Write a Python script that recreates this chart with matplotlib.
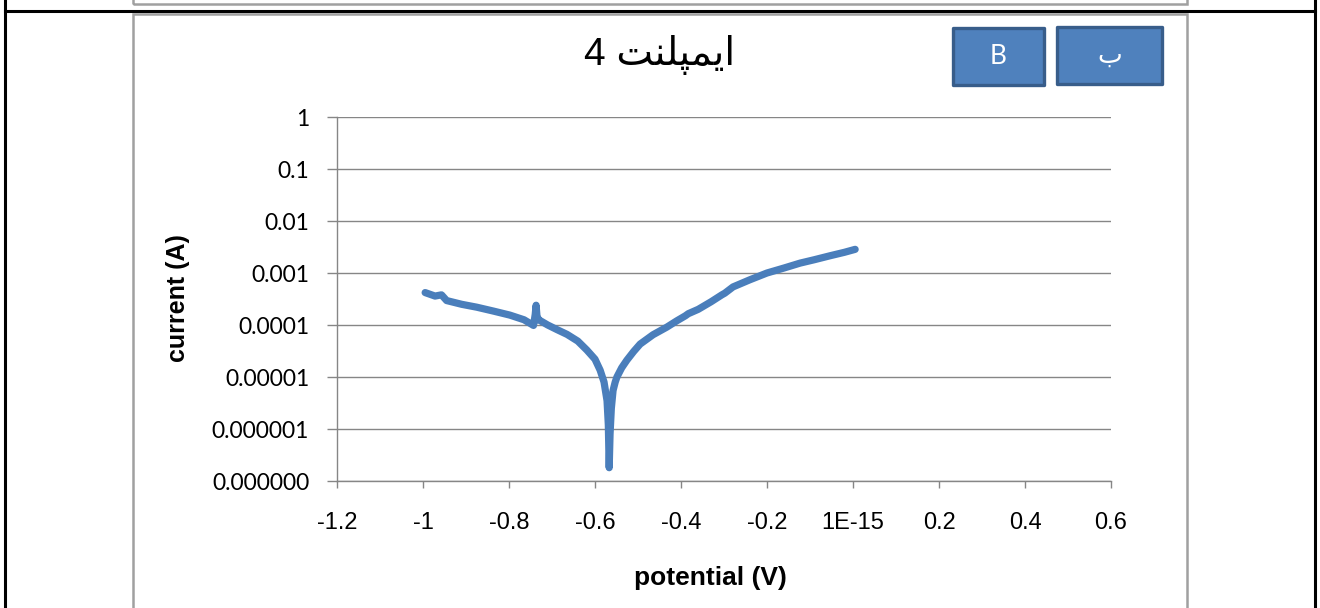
import matplotlib
matplotlib.use("Agg")
import matplotlib.pyplot as plt
from matplotlib import font_manager
from matplotlib.lines import Line2D
from matplotlib.patches import Rectangle
from matplotlib.ticker import FixedLocator, NullLocator

W, H = 1320, 608

# polarisation curve: potential (V) vs current (A)
potential = [-0.995, -0.972, -0.957, -0.945, -0.91, -0.875, -0.836, -0.798,
             -0.765, -0.743, -0.739, -0.737, -0.735, -0.731, -0.728, -0.71,
             -0.689, -0.665, -0.64, -0.619, -0.6, -0.588, -0.579, -0.572,
             -0.569, -0.567, -0.565, -0.562, -0.558, -0.553, -0.549, -0.538,
             -0.526, -0.51, -0.495, -0.465, -0.433, -0.41, -0.39, -0.383,
             -0.36, -0.33, -0.305, -0.298, -0.279, -0.24, -0.2, -0.16,
             -0.123, -0.09, -0.053, -0.02, 0.005]
current = [4.2e-4, 3.6e-4, 3.8e-4, 2.95e-4, 2.5e-4, 2.2e-4, 1.85e-4, 1.55e-4,
           1.26e-4, 9.8e-5, 1.6e-4, 2.4e-4, 1.5e-4, 1.25e-4, 1.22e-4, 1.0e-4,
           8.2e-5, 6.6e-5, 4.9e-5, 3.3e-5, 2.2e-5, 1.35e-5, 8e-6, 3.5e-6,
           1.2e-6, 1.8e-7, 8e-7, 2.5e-6, 5.5e-6, 8e-6, 1.0e-5, 1.5e-5,
           2.1e-5, 3.1e-5, 4.3e-5, 6.5e-5, 9.1e-5, 1.2e-4, 1.5e-4, 1.65e-4,
           2.0e-4, 2.8e-4, 3.8e-4, 4.1e-4, 5.4e-4, 7.4e-4, 1.0e-3, 1.25e-3,
           1.55e-3, 1.8e-3, 2.15e-3, 2.5e-3, 2.85e-3]

x_ticks = [-1.2, -1.0, -0.8, -0.6, -0.4, -0.2, 0.0, 0.2, 0.4, 0.6]
x_tick_labels = ["-1.2", "-1", "-0.8", "-0.6", "-0.4", "-0.2", "1E-15",
                 "0.2", "0.4", "0.6"]
y_ticks = [1e-7, 1e-6, 1e-5, 1e-4, 1e-3, 1e-2, 1e-1, 1]
y_tick_labels = ["0.000000", "0.000001", "0.00001", "0.0001", "0.001",
                 "0.01", "0.1", "1"]

# "ایمپلنت 4" written out in presentation forms, left to right
title = "4 \uFE96\uFEE8\uFEE0\uFB59\uFEE4\uFBFE\uFE8D"
box_labels = ["B", "\u0628"]

GRAY = "#868686"
BLUE = "#4A7EBB"

installed = {f.name for f in font_manager.fontManager.ttflist}
narrow = "Liberation Sans Narrow" if "Liberation Sans Narrow" in installed else "Liberation Sans"


def fx(px):
    return px / W


def fy(py):
    return 1 - py / H


fig = plt.figure(figsize=(W / 100, H / 100), dpi=100)

# table borders and chart frames
for x0 in (5, 1315):
    fig.add_artist(Line2D([fx(x0), fx(x0)], [0, 1], color="black", lw=2.2))
fig.add_artist(Line2D([fx(5), fx(1315)], [fy(11), fy(11)], color="black", lw=2.2))
fig.add_artist(Rectangle((fx(133), fy(4)), fx(1187) - fx(133), 0.05,
                         fill=False, edgecolor="#A0A0A0", lw=1.8,
                         transform=fig.transFigure))
fig.add_artist(Rectangle((fx(133), fy(640)), fx(1187) - fx(133), fy(14) - fy(640),
                         fill=False, edgecolor="#A0A0A0", lw=1.8,
                         transform=fig.transFigure))

ax = fig.add_axes([fx(337), fy(481), fx(1111) - fx(337), fy(117) - fy(481)])
ax.set_yscale("log")
ax.set_xlim(-1.2, 0.6)
ax.set_ylim(1e-7, 1)
ax.xaxis.set_major_locator(FixedLocator(x_ticks))
ax.set_xticklabels(x_tick_labels)
ax.yaxis.set_major_locator(FixedLocator(y_ticks))
ax.yaxis.set_minor_locator(NullLocator())
ax.set_yticklabels(y_tick_labels)

ax.yaxis.grid(True, color=GRAY, lw=1.0)
ax.set_axisbelow(True)
for side in ("top", "right"):
    ax.spines[side].set_visible(False)
for side in ("left", "bottom"):
    ax.spines[side].set_color(GRAY)
    ax.spines[side].set_linewidth(1.0)

ax.tick_params(axis="y", length=7, width=1.0, color=GRAY, pad=13,
               labelsize=16.5, labelfontfamily="Lato")
ax.tick_params(axis="x", length=5, width=1.0, color=GRAY, pad=17,
               labelsize=17, labelfontfamily=narrow)

ax.plot(potential, current, color=BLUE, lw=5.2, solid_capstyle="round",
        solid_joinstyle="round")

fig.text(fx(178), fy(298), "current (A)", rotation=90, ha="center", va="center",
         fontsize=18, fontweight="bold", family=narrow)
fig.text(fx(710), fy(578), "potential (V)", ha="center", va="center",
         fontsize=19, fontweight="bold", family=narrow)

fig.text(fx(660), fy(55), title, ha="center", va="center", fontsize=28,
         family=["Liberation Sans", "DejaVu Sans"])

# labelled boxes in the top right corner
boxes = [(953, 28, 1044, 85), (1057, 27, 1162, 84)]
for (x0, y0, x1, y1), label in zip(boxes, box_labels):
    fig.add_artist(Rectangle((fx(x0), fy(y1)), fx(x1) - fx(x0), fy(y0) - fy(y1),
                             facecolor="#4F81BD", edgecolor="#385D8A", lw=2.4,
                             joinstyle="round", transform=fig.transFigure))
    fig.text(fx((x0 + x1) / 2), fy((y0 + y1) / 2), label, ha="center",
             va="center", color="white", fontsize=19,
             family=["Lato", "DejaVu Sans"])

fig.savefig("out.png", dpi=100)
